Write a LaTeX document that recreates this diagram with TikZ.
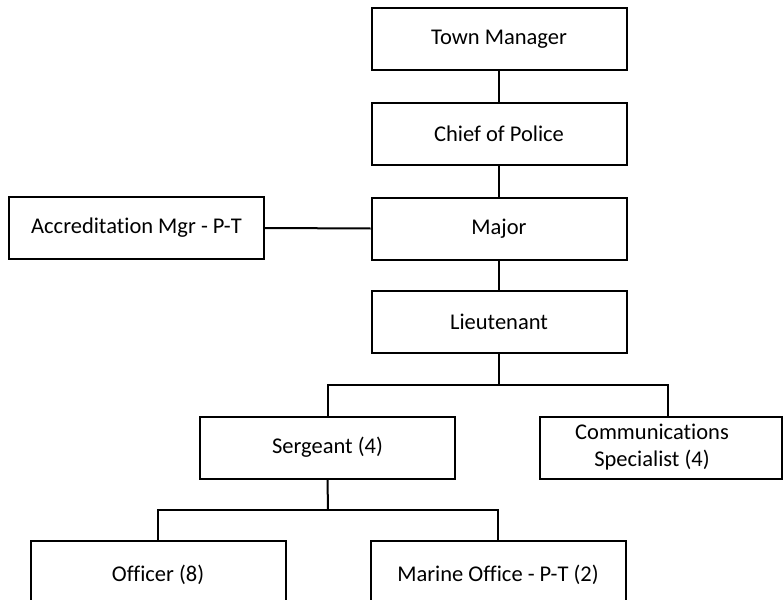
\documentclass[tikz,border=0pt]{standalone}
\usepackage{fontspec}
\setmainfont{Carlito}[Ligatures=NoCommon]
\begin{document}
\begin{tikzpicture}[x=1pt,y=-1pt,
  box/.style={draw=black,line width=2pt,fill=white,minimum width=255pt,
    minimum height=62pt,inner sep=0pt,font=\fontsize{22.5}{27}\selectfont,align=center},
  label/.style={inner sep=0pt,font=\fontsize{22.5}{27}\selectfont,align=center},
  link/.style={draw=black,line width=2pt}]
\useasboundingbox (0,0) rectangle (783,599);
\clip (0,0) rectangle (783,599);
% top chain
\node[box] (tm) at (499,39.5) {Town Manager};
\node[box] (cp) at (499,134) {Chief of Police};
\node[box] (mj) at (499,228.5) {Major};
\node[box] (ac) at (136.5,228) {Accreditation Mgr - P-T};
\node[box] (lt) at (499,322) {Lieutenant};
% second level
\node[box] (sg) at (327.5,447.5) {Sergeant (4)};
\node[box,minimum width=242pt] (cm) at (661,447.5) {};
\node[label] (cmt) at (652,447.5) {Communications\\Specialist (4)};
% bottom level
\node[box,minimum height=68pt] (of) at (158,575) {Officer (8)};
\node[box,minimum height=68pt] (mo) at (498,575) {Marine Office - P-T (2)};
% connectors
\draw[link] (tm.south) -- (cp.north);
\draw[link] (cp.south) -- (mj.north);
\draw[link] (ac.east) -- (mj.west);
\draw[link] (mj.south) -- (lt.north);
\coordinate (bar1) at (499,385);
\coordinate (cmtop) at (668,417);
\draw[link] (lt.south) -- (bar1);
\draw[link] (sg.north) |- (bar1) -| (cmtop);
\coordinate (bar2) at (328,510);
\draw[link] (sg.south) -- (bar2);
\draw[link] (of.north) |- (bar2) -| (mo.north);
\end{tikzpicture}
\end{document}
